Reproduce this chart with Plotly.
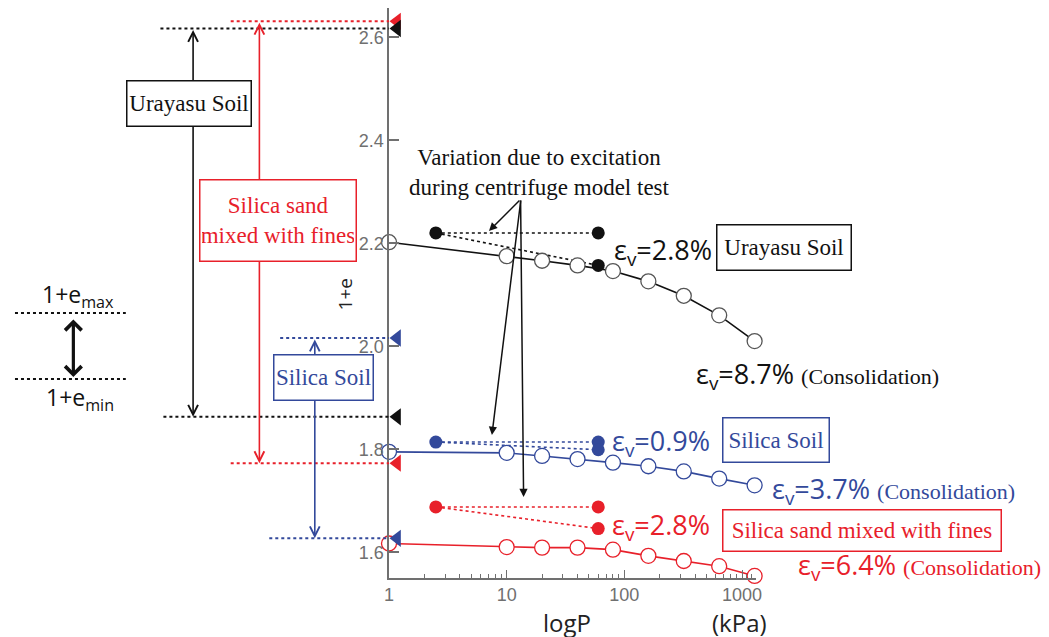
import plotly.graph_objects as go

# ---------------- data ----------------
P = [1, 10, 20, 40, 80, 160, 320, 640, 1280]
urayasu = [2.202, 2.175, 2.166, 2.157, 2.146, 2.126, 2.098, 2.060, 2.010]
silica = [1.795, 1.793, 1.787, 1.781, 1.774, 1.767, 1.757, 1.743, 1.730]
fines = [1.617, 1.610, 1.609, 1.609, 1.605, 1.593, 1.583, 1.573, 1.554]

P_exc = [2.5, 60]
urayasu_exc = [2.220, 2.157]   # before, after excitation
silica_exc = [1.814, 1.799]
fines_exc = [1.688, 1.646]

emax = {"urayasu": 2.617, "silica": 2.016, "fines": 2.631}
emin = {"urayasu": 1.863, "silica": 1.627, "fines": 1.773}

ev_exc = {"urayasu": "2.8%", "silica": "0.9%", "fines": "2.8%"}
ev_cons = {"urayasu": "8.7%", "silica": "3.7%", "fines": "6.4%"}

x_ticks = [1, 10, 100, 1000]
x_ticktext = ["1", "10", "100", "1000"]
y_ticks = [1.6, 1.8, 2.0, 2.2, 2.4, 2.6]
x_minor = [m * d for d in (1, 10, 100) for m in range(2, 10)] + [1100, 1200]

BLACK = "#111111"
BLUE = "#33499b"
RED = "#e8202a"
GRAY = "#707070"
SERIF = "Liberation Serif"
SANS = "Open Sans"

W, H = 1049, 637
OFF = 8            # page offset of the figure (body margin)
PLOT_H = 570       # plot area height in figure pixels


def PX(x):
    return (x - OFF) / W


def PY(y):
    return 1 - (y - OFF) / PLOT_H


def ann(**kw):
    kw.setdefault("xanchor", "center")
    kw.setdefault("yanchor", "middle")
    kw.setdefault("showarrow", False)
    annotations.append(kw)


fig = go.Figure()

series = [
    ("urayasu", urayasu, urayasu_exc, BLACK, "#555555"),
    ("silica", silica, silica_exc, BLUE, BLUE),
    ("fines", fines, fines_exc, RED, RED),
]

for name, vals, exc, col, edge in series:
    fig.add_trace(go.Scatter(x=P_exc, y=[exc[0], exc[0]], mode="lines",
                             line=dict(color=col, width=1.6, dash="dot"),
                             showlegend=False, hoverinfo="skip", cliponaxis=False))
    fig.add_trace(go.Scatter(x=P_exc, y=[exc[0], exc[1]], mode="lines",
                             line=dict(color=col, width=1.6, dash="dot"),
                             showlegend=False, hoverinfo="skip", cliponaxis=False))
    fig.add_trace(go.Scatter(x=P, y=vals, mode="lines+markers",
                             line=dict(color=col, width=1.6),
                             marker=dict(symbol="circle", size=15, color="white",
                                         line=dict(color=edge, width=1.3)),
                             showlegend=False, cliponaxis=False))
    fig.add_trace(go.Scatter(x=[P_exc[0], P_exc[1], P_exc[1]],
                             y=[exc[0], exc[0], exc[1]], mode="markers",
                             marker=dict(symbol="circle", size=13, color=col),
                             showlegend=False, cliponaxis=False))

tri_order = [("fines", RED), ("urayasu", BLACK), ("silica", BLUE)]
for name, col in tri_order:
    fig.add_trace(go.Scatter(x=[1.17, 1.17], y=[emax[name], emin[name]], mode="markers",
                             marker=dict(symbol="triangle-left", size=15, color=col),
                             showlegend=False, cliponaxis=False))

shapes = []
annotations = []

left_cfg = {
    "urayasu": dict(col=BLACK, x_start_max=157, x_start_min=160, x_arrow=190),
    "fines": dict(col=RED, x_start_max=228, x_start_min=228, x_arrow=257),
    "silica": dict(col=BLUE, x_start_max=278, x_start_min=267, x_arrow=313),
}
for name, c in left_cfg.items():
    for val, xs in ((emax[name], c["x_start_max"]), (emin[name], c["x_start_min"])):
        shapes.append(dict(type="line", xref="paper", yref="y",
                           x0=PX(xs), x1=PX(388), y0=val, y1=val,
                           line=dict(color=c["col"], width=2, dash="dot")))
    ann(xref="paper", yref="y", x=PX(c["x_arrow"]), y=emin[name],
        axref="pixel", ayref="y", ax=0, ay=emax[name],
        text="", showarrow=True, arrowside="end+start",
        arrowhead=5, startarrowhead=5, arrowsize=1.2, startarrowsize=1.2,
        arrowwidth=1.6, arrowcolor=c["col"])


def box(x, y, text, col, w, h, size=23):
    ann(xref="paper", yref="paper", x=PX(x), y=PY(y), text=text,
        font=dict(family=SERIF, size=size, color=col), width=w, height=h,
        bgcolor="white", bordercolor=col, borderwidth=1.5, borderpad=1.5)


# left boxes
box(186, 103.5, "Urayasu Soil", BLACK, 120, 41)
box(276, 220.5, "Silica sand<br>mixed with fines", RED, 152, 77)
box(321.5, 377.5, "Silica Soil", BLUE, 95, 41)

# 1+e_max / 1+e_min key
for yy in (313, 379):
    shapes.append(dict(type="line", xref="paper", yref="paper",
                       x0=PX(10), x1=PX(122), y0=PY(yy), y1=PY(yy),
                       line=dict(color=BLACK, width=2, dash="dot")))
ann(xref="paper", yref="paper", x=PX(69), y=PY(377), ax=0, ay=-59,
    text="", showarrow=True, arrowside="end+start",
    arrowhead=4, startarrowhead=4, arrowsize=1, startarrowsize=1,
    arrowwidth=3.2, arrowcolor=BLACK)
ann(xref="paper", yref="paper", x=PX(74), y=PY(295),
    text="1+e<sub>max</sub>", font=dict(family=SANS, size=23, color=BLACK))
ann(xref="paper", yref="paper", x=PX(76), y=PY(398),
    text="1+e<sub>min</sub>", font=dict(family=SANS, size=23, color=BLACK))

# excitation note and arrows
ann(xref="paper", yref="paper", x=PX(540), y=PY(172),
    text="Variation due to excitation<br>during centrifuge model test",
    font=dict(family=SERIF, size=23, color=BLACK))
for tx, ty in ((489, 231), (492, 435), (524, 497)):
    ann(xref="paper", yref="paper", x=PX(tx), y=PY(ty),
        ax=521 - tx, ay=199 - ty, text="", showarrow=True,
        arrowhead=2, arrowsize=1.1, arrowwidth=1.5, arrowcolor=BLACK)


def ev_label(x, y, val, col, cons=False):
    txt = "ε<sub>v</sub>=" + val
    if cons:
        txt += " <span style='font-family:%s;font-size:22px'>(Consolidation)</span>" % SERIF
    ann(xref="paper", yref="paper", x=PX(x), y=PY(y), xanchor="left",
        text=txt, font=dict(family=SANS, size=27, color=col))


ev_label(613, 251, ev_exc["urayasu"], BLACK)
ev_label(696, 375, ev_cons["urayasu"], BLACK, True)
ev_label(611, 442, ev_exc["silica"], BLUE)
ev_label(773, 490, ev_cons["silica"], BLUE, True)
ev_label(611, 526, ev_exc["fines"], RED)
ev_label(799, 566, ev_cons["fines"], RED, True)

# right boxes
box(787, 247.5, "Urayasu Soil", BLACK, 130, 41)
box(779, 440, "Silica Soil", BLUE, 102, 40)
box(866, 530.5, "Silica sand mixed with fines", RED, 274, 37)

# axis titles
ann(xref="paper", yref="paper", x=PX(568), y=PY(622), text="logP",
    font=dict(family=SANS, size=24, color="#222222"))
ann(xref="paper", yref="paper", x=PX(742), y=PY(622), text="(kPa)",
    font=dict(family=SANS, size=24, color="#222222"))
ann(xref="paper", yref="paper", x=PX(344), y=PY(294), text="1+e", textangle=-90,
    font=dict(family=SANS, size=19, color="#222222"))

fig.update_layout(
    width=W, height=H,
    margin=dict(l=0, r=0, t=0, b=H - PLOT_H),
    paper_bgcolor="white", plot_bgcolor="white",
    showlegend=False,
    shapes=shapes,
    annotations=annotations,
    xaxis=dict(type="log", range=[0, 3.12], domain=[PX(388), PX(759)],
               showgrid=False, zeroline=False,
               showline=True, linecolor=GRAY, linewidth=1.5,
               ticks="inside", ticklen=8, tickwidth=1.2, tickcolor=GRAY,
               tickvals=x_ticks, ticktext=x_ticktext,
               tickfont=dict(family="Liberation Sans", size=18, color=GRAY),
               minor=dict(tickvals=x_minor, ticks="inside", ticklen=4,
                          tickwidth=1, tickcolor=GRAY)),
    yaxis=dict(range=[1.55, 1.55 + PLOT_H / 515], showgrid=False, zeroline=False,
               showline=True, linecolor=GRAY, linewidth=1.5,
               ticks="inside", ticklen=10, tickwidth=1.5, tickcolor=GRAY,
               tickvals=y_ticks, tickformat=".1f",
               tickfont=dict(family="Liberation Sans", size=18, color=GRAY)),
)

fig.write_html("out.html")
